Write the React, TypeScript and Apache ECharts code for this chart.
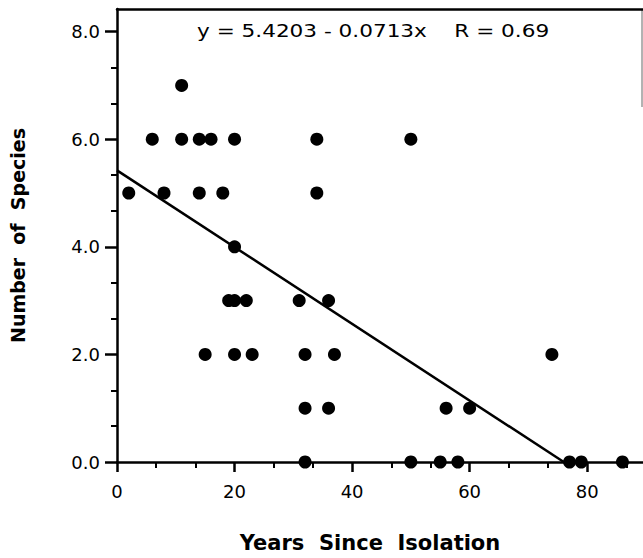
import React, { useEffect, useRef } from "react";
import * as echarts from "echarts";

// ---- data ----
const yearsSinceIsolation = [
  11,
  6, 11, 14, 16, 20, 34, 50,
  2, 8, 14, 18, 34,
  20,
  19, 20, 22, 31, 36,
  15, 20, 23, 32, 37, 74,
  32, 36, 56, 60,
  32, 50, 55, 58, 77, 79, 86,
];
const numberOfSpecies = [
  7,
  6, 6, 6, 6, 6, 6, 6,
  5, 5, 5, 5, 5,
  4,
  3, 3, 3, 3, 3,
  2, 2, 2, 2, 2, 2,
  1, 1, 1, 1,
  0, 0, 0, 0, 0, 0, 0,
];
const regressionIntercept = 5.4203;
const regressionSlope = -0.0713;
const correlationR = 0.69;

const xTickValues = [0, 20, 40, 60, 80];
const yTickValues = [0, 2, 4, 6, 8];
const xMax = 89.5;
const yMax = 8.42;

const xTitle = "Years  Since  Isolation";
const yTitle = "Number  of  Species";

function minorValues(majors: number[], max: number, parts: number) {
  const step = majors[1] - majors[0];
  const out: number[] = [];
  majors.forEach((v) => {
    for (let k = 1; k < parts; k++) {
      const m = v + (step * k) / parts;
      if (m < max) out.push(m);
    }
  });
  return out;
}

export default function App() {
  const ref = useRef<HTMLDivElement>(null);
  useEffect(() => {
    if (!ref.current) return;
    const chart = echarts.init(ref.current, null, { renderer: "svg" });
    const points = yearsSinceIsolation.map((x, i) => [x, numberOfSpecies[i]]);
    const xAtZero = -regressionIntercept / regressionSlope;
    const linePts = [
      [0, regressionIntercept],
      [xAtZero, regressionIntercept + regressionSlope * xAtZero],
    ];
    const equation = `y = ${regressionIntercept.toFixed(4)} - ${Math.abs(regressionSlope).toFixed(4)}x    R = ${correlationR.toFixed(2)}`;
    const black = "#000";
    const tickFont = { fontFamily: "DejaVu Sans", fontSize: 18, color: black };
    const nameFont = { fontFamily: "DejaVu Sans", fontWeight: "bold" as const, color: black };

    chart.setOption({
      animation: false,
      backgroundColor: "#fff",
      grid: { left: 115, right: 0, top: 9, bottom: 94.7, containLabel: false },
      xAxis: [
        {
          type: "value",
          position: "bottom",
          min: 0,
          max: xMax,
          axisLine: { show: true, onZero: false, lineStyle: { color: black, width: 2.5 } },
          axisTick: { show: true, customValues: xTickValues, length: 10, lineStyle: { color: black, width: 2.5 } },
          axisLabel: { show: true, customValues: xTickValues, margin: 20, ...tickFont },
          splitLine: { show: false },
          name: xTitle,
          nameLocation: "middle",
          nameGap: 70,
          nameTextStyle: { ...nameFont, fontSize: 21, padding: [0, 20, 0, 0] },
        },
        {
          type: "value",
          position: "bottom",
          min: 0,
          max: xMax,
          axisLine: { show: false, onZero: false },
          axisTick: { show: true, customValues: minorValues(xTickValues, xMax, 3), length: 6, lineStyle: { color: black, width: 2 } },
          axisLabel: { show: false },
          splitLine: { show: false },
        },
        {
          type: "value",
          position: "top",
          min: 0,
          max: xMax,
          axisLine: { show: true, onZero: false, lineStyle: { color: black, width: 2.5 } },
          axisTick: { show: false },
          axisLabel: { show: false },
          splitLine: { show: false },
        },
      ],
      yAxis: [
        {
          type: "value",
          position: "left",
          min: 0,
          max: yMax,
          axisLine: { show: true, onZero: false, lineStyle: { color: black, width: 2.5 } },
          axisTick: { show: true, customValues: yTickValues, length: 12, lineStyle: { color: black, width: 2.5 } },
          axisLabel: {
            show: true,
            customValues: yTickValues,
            margin: 17,
            formatter: (v: number) => v.toFixed(1),
            ...tickFont,
          },
          splitLine: { show: false },
          name: yTitle,
          nameLocation: "middle",
          nameGap: 90,
          nameRotate: 90,
          nameTextStyle: { ...nameFont, fontSize: 19 },
        },
        {
          type: "value",
          position: "left",
          min: 0,
          max: yMax,
          axisLine: { show: false, onZero: false },
          axisTick: { show: true, customValues: minorValues(yTickValues, yMax, 3), length: 6, lineStyle: { color: black, width: 2 } },
          axisLabel: { show: false },
          splitLine: { show: false },
        },
      ],
      graphic: [
        {
          type: "text",
          x: 197,
          y: 31,
          scaleX: 1.27,
          style: {
            text: equation,
            fontFamily: "DejaVu Sans",
            fontSize: 17,
            fill: black,
            align: "left",
            verticalAlign: "middle",
          },
        },
        {
          type: "line",
          shape: { x1: 642, y1: 9, x2: 642, y2: 107 },
          style: { stroke: "#666", lineWidth: 1 },
        },
      ],
      series: [
        {
          type: "line",
          xAxisIndex: 0,
          yAxisIndex: 0,
          data: linePts,
          showSymbol: false,
          symbol: "none",
          lineStyle: { color: black, width: 2.5 },
          z: 2,
        },
        {
          type: "scatter",
          xAxisIndex: 0,
          yAxisIndex: 0,
          data: points,
          symbol: "circle",
          symbolSize: 13,
          itemStyle: { color: black, opacity: 1 },
          z: 3,
        },
      ],
    });
    return () => chart.dispose();
  }, []);
  return (
    <div
      ref={ref}
      style={{ position: "absolute", left: 0, top: 0, width: 643, height: 558 }}
    />
  );
}
